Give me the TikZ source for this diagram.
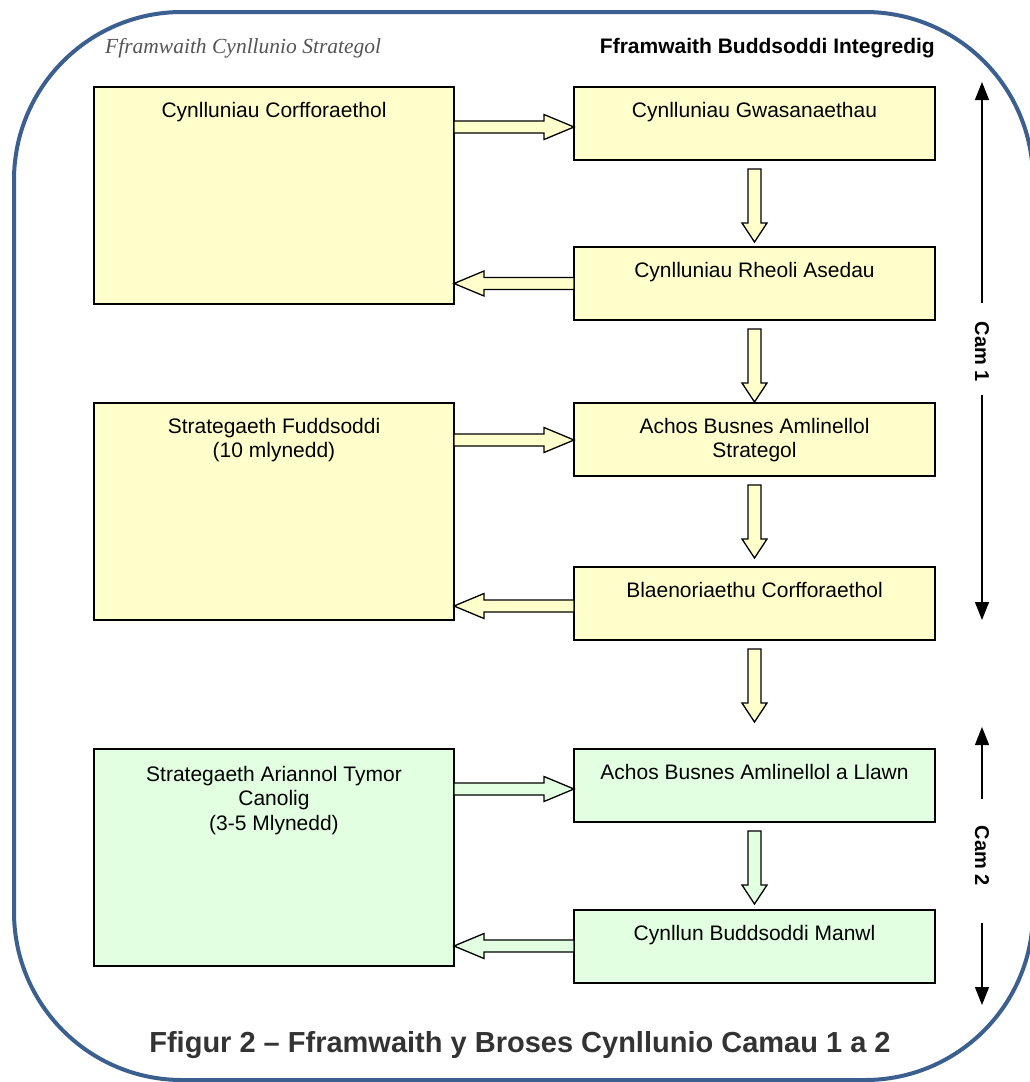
\documentclass[tikz,border=0pt]{standalone}
\usepackage{fontspec}
\setmainfont{Liberation Sans}
\newfontfamily\hdrserif{Liberation Serif}
\usetikzlibrary{arrows.meta,calc}
\definecolor{frameblue}{RGB}{59,95,143}
\definecolor{boxyellow}{RGB}{255,255,204}
\definecolor{boxgreen}{RGB}{226,255,226}
\definecolor{txtgray}{RGB}{51,51,51}
\definecolor{hdrgray}{RGB}{85,85,85}
% horizontal block arrow: #1 from, #2 to, #3 fill, #4 direction (1 right, -1 left)
\newcommand\hblk[4]{%
  \path[blk, fill=#3] let \p1=#1, \p2=#2 in
  (\x1,{\y2+6pt}) -- ({\x2-(#4)*30pt},{\y2+6pt}) -- ({\x2-(#4)*30pt},{\y2+12.5pt})
  -- (\x2,\y2) -- ({\x2-(#4)*30pt},{\y2-12.5pt}) -- ({\x2-(#4)*30pt},{\y2-6pt})
  -- (\x1,{\y2-6pt}) -- cycle;}
% vertical block arrow below a node anchor: #1 start anchor, #2 fill
\newcommand\vblk[2]{%
  \path[blk, fill=#2] let \p1=#1 in
  ({\x1-6.5pt},{\y1-9pt}) -- ({\x1-6.5pt},{\y1-63pt}) -- ({\x1-12.5pt},{\y1-63pt})
  -- (\x1,{\y1-82pt}) -- ({\x1+12.5pt},{\y1-63pt}) -- ({\x1+6.5pt},{\y1-63pt})
  -- ({\x1+6.5pt},{\y1-9pt}) -- cycle;}
\begin{document}
\begin{tikzpicture}[x=1pt,y=-1pt,
  box/.style={draw=black, line width=1.6pt, inner sep=0pt, outer sep=0pt, anchor=north west},
  wide/.style={box, minimum width=360pt, minimum height=217pt},
  narrow/.style={box, minimum width=361pt, minimum height=73pt},
  boxtext/.style={anchor=north, align=center, inner sep=0pt, font=\fontsize{21}{24.5}\selectfont, text=black},
  blk/.style={draw=black, line width=1.3pt, line join=miter},
  camarrow/.style={line width=1.2pt, -{Triangle[width=14pt,length=18pt]}},
  camtext/.style={rotate=-90, font=\bfseries\fontsize{20}{20}\selectfont, inner sep=0pt}
]
\useasboundingbox (0,0) rectangle (1030,1082);
\fill[white] (0,0) rectangle (1030,1082);
% frame with circular corners (radius 168)
\draw[frameblue, line width=4pt]
  (182,12) -- (865,12) .. controls (957.8,12) and (1033,87.2) .. (1033,180)
  -- (1033,912) .. controls (1033,1004.8) and (957.8,1080) .. (865,1080)
  -- (182,1080) .. controls (89.2,1080) and (14,1004.8) .. (14,912)
  -- (14,180) .. controls (14,87.2) and (89.2,12) .. (182,12) -- cycle;

% headers
\node[anchor=base west, inner sep=0pt, text=hdrgray, font=\hdrserif\itshape\fontsize{21.5}{21.5}\selectfont] (hl) at (105,53) {Fframwaith Cynllunio Strategol};
\node[anchor=base east, inner sep=0pt, text=black, font=\bfseries\fontsize{21}{21}\selectfont] (hr) at (935,53) {Fframwaith Buddsoddi Integredig};

% boxes
\node[wide, fill=boxyellow] (corp) at (94,87) {};
\node[narrow, fill=boxyellow] (gwas) at (574,87) {};
\node[narrow, fill=boxyellow] (rheoli) at (574,247) {};
\node[wide, fill=boxyellow] (fudd) at (94,403) {};
\node[narrow, fill=boxyellow] (achos) at (574,403) {};
\node[narrow, fill=boxyellow] (blaen) at (574,567) {};
\node[wide, fill=boxgreen] (ariann) at (94,749) {};
\node[narrow, fill=boxgreen] (llawn) at (574,749) {};
\node[narrow, fill=boxgreen] (manwl) at (574,910) {};

% box texts
\node[boxtext] (corpT) at ($(corp.north)+(0,15)$) {Cynlluniau Corfforaethol};
\node[boxtext] (gwasT) at ($(gwas.north)+(0,15)$) {Cynlluniau Gwasanaethau};
\node[boxtext] (rheoliT) at ($(rheoli.north)+(0,15)$) {Cynlluniau Rheoli Asedau};
\node[boxtext] (fuddT) at ($(fudd.north)+(0,15)$) {Strategaeth Fuddsoddi\\(10 mlynedd)};
\node[boxtext] (achosT) at ($(achos.north)+(0,15)$) {Achos Busnes Amlinellol\\Strategol};
\node[boxtext] (blaenT) at ($(blaen.north)+(0,15)$) {Blaenoriaethu Corfforaethol};
\node[boxtext] (ariannT) at ($(ariann.north)+(0,17)$) {Strategaeth Ariannol Tymor\\Canolig\\(3-5 Mlynedd)};
\node[boxtext] (llawnT) at ($(llawn.north)+(0,15)$) {Achos Busnes Amlinellol a Llawn};
\node[boxtext] (manwlT) at ($(manwl.north)+(0,15)$) {Cynllun Buddsoddi Manwl};

% block arrows
\hblk{(corp.east |- 0,127)}{(gwas.west |- 0,127)}{boxyellow}{1}
\hblk{(rheoli.west)}{(corp.east |- rheoli.west)}{boxyellow}{-1}
\hblk{(fudd.east |- 0,440)}{(achos.west |- 0,440)}{boxyellow}{1}
\hblk{(blaen.west |- 0,606)}{(fudd.east |- 0,606)}{boxyellow}{-1}
\hblk{(ariann.east |- 0,789)}{(llawn.west |- 0,789)}{boxgreen}{1}
\hblk{(manwl.west |- 0,946)}{(ariann.east |- 0,946)}{boxgreen}{-1}
\vblk{(gwas.south)}{boxyellow}
\vblk{(rheoli.south)}{boxyellow}
\vblk{(achos.south)}{boxyellow}
\vblk{(blaen.south)}{boxyellow}
\vblk{(llawn.south)}{boxgreen}

% Cam labels
\node[camtext] (cam1) at (982,352) {Cam 1};
\coordinate (c1up) at (982,82);
\coordinate (c1dn) at (982,620);
\draw[camarrow, shorten <=19pt] (cam1.west) -- (c1up);
\draw[camarrow, shorten <=13pt] (cam1.east) -- (c1dn);
\node[camtext] (cam2) at (982,856) {Cam 2};
\coordinate (c2up) at (982,727);
\coordinate (c2dn) at (982,1005);
\draw[camarrow, shorten <=27pt] (cam2.west) -- (c2up);
\draw[camarrow, shorten <=37pt] (cam2.east) -- (c2dn);

% caption
\node[anchor=base, inner sep=0pt, text=txtgray, font=\bfseries\fontsize{29}{29}\selectfont] (cap) at (520,1052) {Ffigur 2 -- Fframwaith y Broses Cynllunio Camau 1 a 2};
\end{tikzpicture}
\end{document}
